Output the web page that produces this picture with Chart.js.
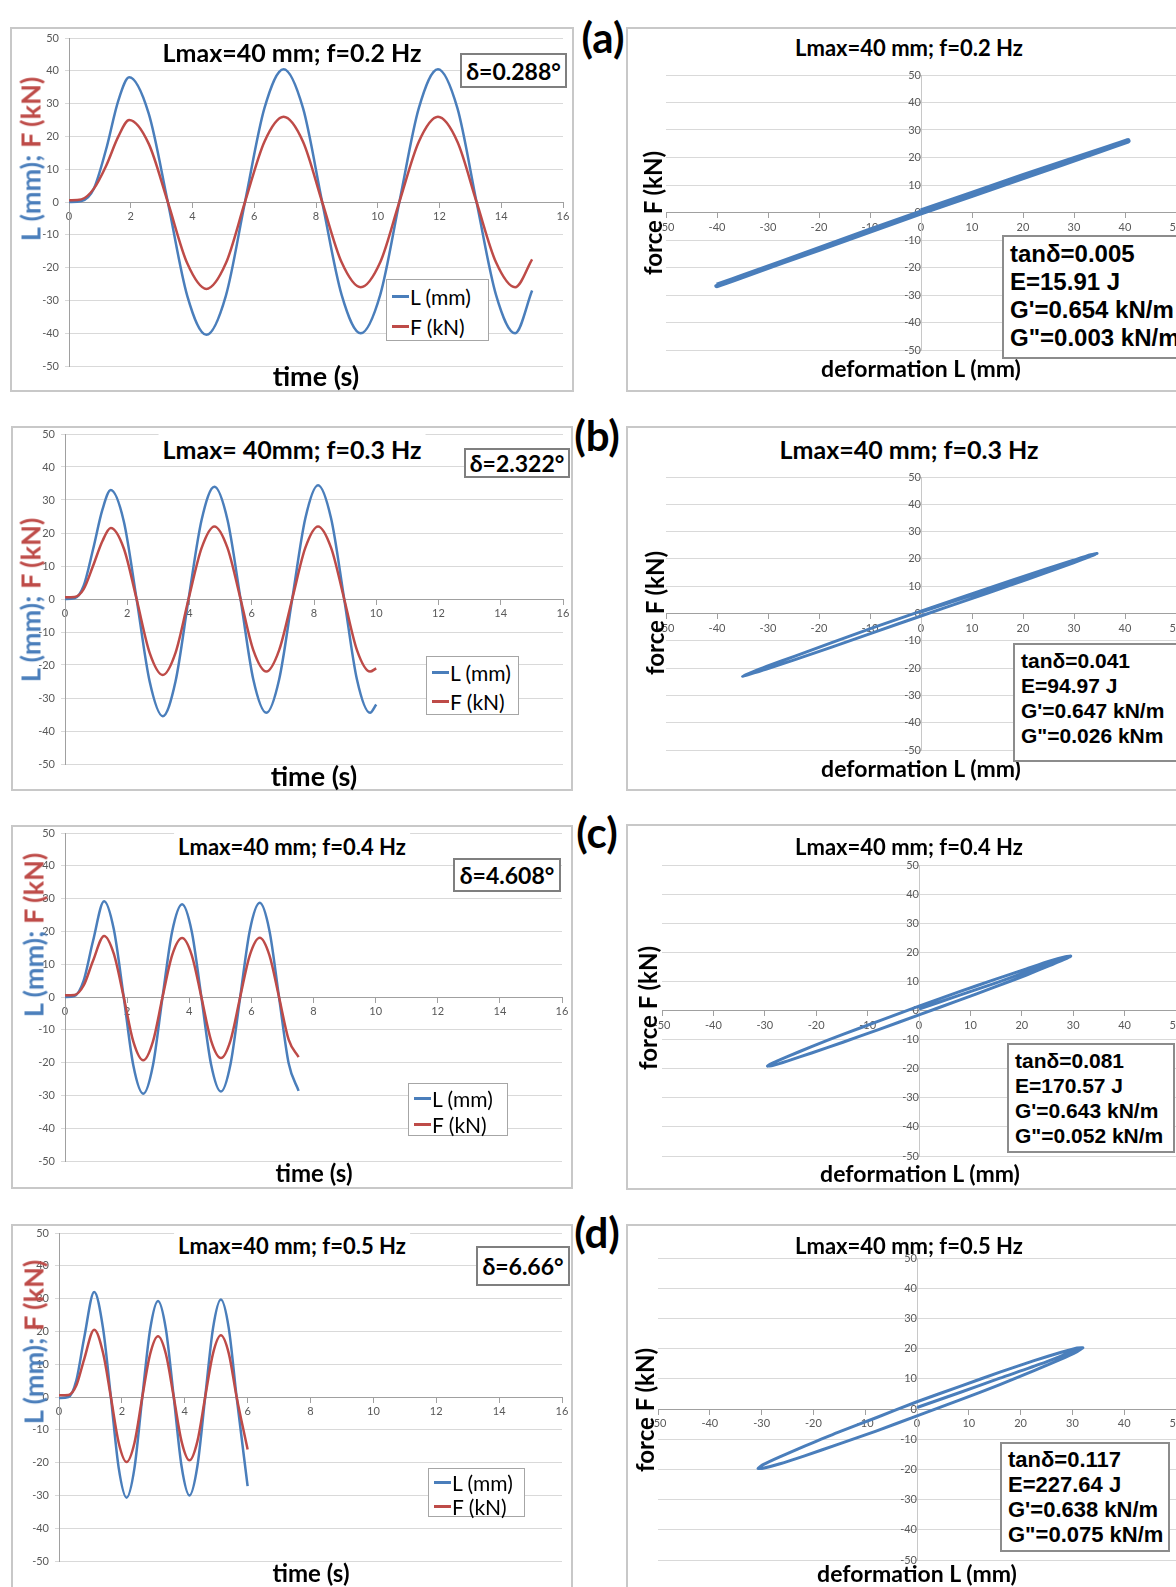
<!DOCTYPE html>
<html>
<head>
<meta charset="utf-8">
<title>Lmax=40 mm cyclic tests</title>
<script src="https://cdn.jsdelivr.net/npm/chart.js@4.4.1/dist/chart.umd.min.js"></script>
<style>
  html, body { margin: 0; padding: 0; background: #fff; }
  body { position: relative; width: 1176px; height: 1587px; overflow: hidden; font-family: Lato, "Open Sans", sans-serif; }
  .frame { position: absolute; border: 2px solid #c8c8c8; box-sizing: border-box; }
  .txt { position: absolute; transform: translate(-50%, -50%); white-space: nowrap; font-weight: bold; color: #000; line-height: 1; }
  .cover { background: #fff; padding: 0 4px; line-height: 30px; }
  .vert { transform: translate(-50%, -50%) rotate(-90deg); }
  .dbox { position: absolute; box-sizing: border-box; border: 2px solid #7f7f7f; background: #fff; font-weight: bold; font-size: 23px; display: flex; align-items: center; justify-content: center; }
  .legend { position: absolute; box-sizing: border-box; border: 1.5px solid #a6a6a6; background: #fff; padding: 1px 0 0 5px; font-size: 21px; }
  .legend div { display: flex; align-items: center; }
  .legend span { display: inline-block; width: 17px; height: 3px; margin-right: 1px; }
  .info { position: absolute; box-sizing: border-box; border: 2px solid #8c8c8c; background: #fff; font-family: "Liberation Sans", Arial, sans-serif; font-weight: bold; padding: 3px 0 0 6px; white-space: nowrap; }
  .plabel { position: absolute; transform: translate(-50%, -50%); font-weight: bold; font-size: 42px; line-height: 1; }
  canvas { position: absolute; }
</style>
</head>
<body>
<script>
// time series, f=0.2 Hz
const timeA = [0, 0.4, 0.8, 1.2, 1.6, 1.95, 2.58, 3.2, 3.83, 4.45, 5.08, 5.7, 6.33, 6.95, 7.58, 8.2, 8.83, 9.45, 10.08, 10.7, 11.33, 11.95, 12.58, 13.2, 13.83, 14.45, 15.0];
const lenA = [0, 0.3, 4, 16, 31, 38, 27, 0, -28.6, -40.5, -28.6, 0, 28.6, 40.5, 28.6, 0, -28.3, -40, -28.3, 0, 28.6, 40.5, 28.6, 0, -28.3, -40, -27];
const forceA = [0.5, 0.8, 4, 11, 20, 25, 17.8, 0, -18.7, -26.5, -18.7, 0, 18.4, 26, 18.4, 0, -18.4, -26, -18.4, 0, 18.4, 26, 18.4, 0, -18.4, -26, -17.5];

// f=0.3 Hz
const timeB = [0, 0.3, 0.6, 0.9, 1.2, 1.47, 1.89, 2.3, 2.72, 3.14, 3.55, 3.97, 4.39, 4.8, 5.22, 5.64, 6.05, 6.47, 6.88, 7.3, 7.72, 8.13, 8.55, 8.97, 9.38, 9.8, 10.0];
const lenB = [0, 0.2, 4, 15, 27, 33, 23.5, 0, -25, -35.5, -25, 0, 24, 34, 24, 0, -24.4, -34.5, -24.4, 0, 24.4, 34.5, 24.4, 0, -24.4, -34.5, -32];
const forceB = [0.5, 0.6, 3, 10, 17.5, 21.5, 15.3, 0, -16.3, -23, -16.3, 0, 15.5, 22, 15.5, 0, -15.5, -22, -15.5, 0, 15.5, 22, 15.5, 0, -15.5, -22, -21];

// f=0.4 Hz
const timeC = [0, 0.3, 0.6, 0.9, 1.26, 1.57, 1.89, 2.2, 2.52, 2.83, 3.14, 3.45, 3.77, 4.08, 4.39, 4.7, 5.02, 5.33, 5.64, 5.95, 6.27, 6.58, 6.89, 7.2, 7.52];
const lenC = [0, 0.3, 5, 17, 29.2, 20.7, 0, -20.9, -29.5, -20.9, 0, 20, 28.3, 20, 0, -20.4, -28.8, -20.4, 0, 20.3, 28.7, 20.3, 0, -20.2, -28.6];
const forceC = [0.5, 0.6, 3.5, 11, 18.6, 13.2, 0, -13.6, -19.3, -13.6, 0, 12.8, 18, 12.8, 0, -13.2, -18.6, -13.2, 0, 12.8, 18.1, 12.8, 0, -13, -18.3];

// f=0.5 Hz
const timeD = [0, 0.3, 0.55, 0.8, 1.12, 1.4, 1.65, 1.9, 2.15, 2.4, 2.65, 2.9, 3.15, 3.4, 3.65, 3.9, 4.15, 4.4, 4.65, 4.9, 5.15, 5.4, 5.65, 6.0];
const lenD = [-0.3, 0, 5, 18, 32, 21, 0, -21.7, -30.7, -21.7, 0, 20.7, 29.3, 20.7, 0, -21.2, -30, -21.2, 0, 21, 29.7, 21, 0, -27.2];
const forceD = [0.5, 0.6, 3.5, 11.5, 20.5, 13.5, 0, -14, -19.8, -14, 0, 13.1, 18.5, 13.1, 0, -13.6, -19.3, -13.6, 0, 13.3, 18.8, 13.3, 0, -16];

// hysteresis loops: start ramp, then one cycle (deformation L, force F)
const loopLenA = [0, 20, 40.5, 35.1, 20.3, 0, -20, -34.6, -40, -34.6, -20, 0, 20.3, 35.1, 40.5];
const loopForceA = [0.5, 13.3, 26, 22.5, 12.9, -0.1, -13.3, -22.9, -26.5, -23, -13.2, 0.1, 13.1, 22.6, 26];

const loopLenB = [0, 8, 17, 26, 34.5, 33.3, 29.9, 24.4, 17.3, 8.9, 0, -9.1, -17.5, -24.7, -30.3, -33.8, -35, -33.8, -30.3, -24.7, -17.5, -9.1, 0, 8.9, 17.3, 24.4, 29.9, 33.3, 34.5];
const loopForceB = [0.5, 5.5, 11, 16.6, 22.0, 21.0, 18.6, 14.9, 10.2, 4.8, -0.9, -6.8, -12.3, -16.9, -20.4, -22.4, -23.0, -22.0, -19.4, -15.6, -10.7, -5.0, 0.9, 6.5, 11.8, 16.2, 19.5, 21.5, 22.0];

const loopLenC = [0, 7.5, 15, 22, 29.5, 28.5, 25.5, 20.9, 14.8, 7.6, 0, -7.6, -14.8, -20.9, -25.5, -28.5, -29.5, -28.5, -25.5, -20.9, -14.8, -7.6, 0, 7.6, 14.8, 20.9, 25.5, 28.5, 29.5];
const loopForceC = [0.5, 5, 9.5, 14, 18.7, 17.7, 15.5, 12.2, 8.1, 3.4, -1.5, -6.4, -10.9, -14.6, -17.3, -18.9, -19.1, -18.1, -15.8, -12.4, -8.2, -3.5, 1.5, 6.3, 10.7, 14.3, 17.0, 18.5, 18.7];

const loopLenD = [0, 8, 16, 24, 32, 30.9, 27.7, 22.6, 16, 8.3, 0, -7.9, -15.4, -21.7, -26.6, -29.7, -30.7, -29.7, -26.6, -21.7, -15.4, -7.9, 0, 8.3, 16, 22.6, 27.7, 30.9, 32];
const loopForceD = [0.5, 5.3, 10.2, 15, 20.3, 19.0, 16.4, 12.7, 8.1, 3.0, -2.3, -7.3, -11.8, -15.5, -18.2, -19.6, -19.7, -18.4, -15.9, -12.3, -7.8, -2.9, 2.4, 7.5, 12.2, 16.0, 18.7, 20.2, 20.3];

const BLUE = '#4a7ebb';
const RED = '#be4b48';
const GRID = '#d9d9d9';
const AXIS = '#a0a0a0';

Chart.defaults.font.family = 'Lato, sans-serif';
Chart.defaults.font.size = 11;
Chart.defaults.color = '#595959';

// where everything sits on the page (pixels)
const panels = [
  {
    tag: '(a)', tagAt: [603, 37],
    t: timeA, L: lenA, F: forceA, loopL: loopLenA, loopF: loopForceA, lw: 5.5,
    left: { box: [10, 27, 564, 365], plot: [69, 38, 494, 328], title: 'Lmax=40 mm; f=0.2 Hz', titleAt: [292, 52], tsize: 25, cover: false,
            delta: 'δ=0.288°', dbox: [460, 53, 107, 35], legend: [386, 279, 103, 62, 30], xt: [316, 375, 27], yt: [30, 159] },
    right: { box: [626, 27, 600, 365], plot: [666, 75, 510, 275], title: 'Lmax=40 mm; f=0.2 Hz', titleAt: [909, 48], tsize: 22,
             yt: [653, 213], xt: [921, 368], info: [1002, 235, 200, 124], isize: 24, ilh: 28,
             lines: ['tanδ=0.005', 'E=15.91 J', "G'=0.654 kN/m", 'G"=0.003 kN/m'] }
  },
  {
    tag: '(b)', tagAt: [597, 435],
    t: timeB, L: lenB, F: forceB, loopL: loopLenB, loopF: loopForceB, lw: 3,
    left: { box: [11, 426, 562, 365], plot: [65, 434, 498, 330], title: 'Lmax= 40mm; f=0.3 Hz', titleAt: [292, 449], tsize: 25, cover: true,
            delta: 'δ=2.322°', dbox: [464, 448, 106, 30], legend: [426, 656, 93, 59, 29], xt: [314, 775, 27], yt: [30, 600] },
    right: { box: [626, 426, 600, 365], plot: [666, 477, 510, 273], title: 'Lmax=40 mm; f=0.3 Hz', titleAt: [909, 449], tsize: 25,
             yt: [655, 613], xt: [921, 768], info: [1013, 643, 200, 119], isize: 21, ilh: 25,
             lines: ['tanδ=0.041', 'E=94.97 J', "G'=0.647 kN/m", 'G"=0.026 kNm'] }
  },
  {
    tag: '(c)', tagAt: [597, 832],
    t: timeC, L: lenC, F: forceC, loopL: loopLenC, loopF: loopForceC, lw: 3,
    left: { box: [11, 825, 562, 364], plot: [65, 833, 497, 328], title: 'Lmax=40 mm; f=0.4 Hz', titleAt: [292, 847], tsize: 22, cover: true,
            delta: 'δ=4.608°', dbox: [453, 858, 108, 34], legend: [408, 1083, 100, 53, 26], xt: [314, 1173, 24], yt: [33, 935] },
    right: { box: [626, 824, 600, 366], plot: [662, 865, 514, 291], title: 'Lmax=40 mm; f=0.4 Hz', titleAt: [909, 847], tsize: 22,
             yt: [648, 1008], xt: [920, 1173], info: [1007, 1043, 168, 110], isize: 21, ilh: 25,
             lines: ['tanδ=0.081', 'E=170.57 J', "G'=0.643 kN/m", 'G"=0.052 kN/m'] }
  },
  {
    tag: '(d)', tagAt: [597, 1232],
    t: timeD, L: lenD, F: forceD, loopL: loopLenD, loopF: loopForceD, lw: 3,
    left: { box: [11, 1224, 562, 400], plot: [59, 1233, 503, 328], title: 'Lmax=40 mm; f=0.5 Hz', titleAt: [292, 1246], tsize: 22, cover: true,
            delta: 'δ=6.66°', dbox: [476, 1246, 94, 40], legend: [428, 1468, 97, 49, 24], xt: [311, 1573, 24], yt: [33, 1342] },
    right: { box: [626, 1224, 600, 400], plot: [658, 1258, 518, 302], title: 'Lmax=40 mm; f=0.5 Hz', titleAt: [909, 1246], tsize: 22,
             yt: [645, 1410], xt: [917, 1573], info: [1000, 1442, 170, 110], isize: 22, ilh: 25,
             lines: ['tanδ=0.117', 'E=227.64 J', "G'=0.638 kN/m", 'G"=0.075 kN/m'] }
  }
];

function el(cls, x, y, w, h, html, extra) {
  const d = document.createElement('div');
  d.className = cls;
  let css = 'left:' + x + 'px;top:' + y + 'px;';
  if (w) css += 'width:' + w + 'px;';
  if (h) css += 'height:' + h + 'px;';
  d.style.cssText = css + (extra || '');
  d.innerHTML = html || '';
  document.body.appendChild(d);
  return d;
}

function canvasAt(x, y, w, h) {
  const c = document.createElement('canvas');
  c.width = w;
  c.height = h;
  c.style.cssText = 'left:' + x + 'px;top:' + y + 'px;width:' + w + 'px;height:' + h + 'px;';
  document.body.appendChild(c);
  return c;
}

function zeroPad(s) {
  s.paddingLeft = 0; s.paddingRight = 0; s.paddingTop = 0; s.paddingBottom = 0;
}

function pts(xs, ys) {
  return xs.map(function (x, i) { return { x: x, y: ys[i] }; });
}

function timeChart(p, t, L, F) {
  const [x, y, w, h] = p.plot;
  const c = canvasAt(x - 45, y - 8, w + 53, h + 16);
  new Chart(c, {
    type: 'line',
    data: {
      datasets: [
        { label: 'F (kN)', data: pts(t, F), borderColor: RED, borderWidth: 2.5, order: 0 },
        { label: 'L (mm)', data: pts(t, L), borderColor: BLUE, borderWidth: 2.5, order: 1 }
      ]
    },
    options: {
      responsive: false, animation: false, events: [],
      layout: { padding: { left: 0, top: 8, right: 8, bottom: 8 } },
      elements: { point: { radius: 0 }, line: { cubicInterpolationMode: 'monotone', fill: false } },
      plugins: { legend: { display: false }, tooltip: { enabled: false } },
      scales: {
        x: {
          type: 'linear', min: 0, max: 16, position: { y: 0 },
          ticks: { stepSize: 2, maxRotation: 0, autoSkip: false, padding: 3 },
          grid: { drawOnChartArea: false, tickLength: 5, color: AXIS },
          border: { color: AXIS },
          afterFit: zeroPad
        },
        y: {
          type: 'linear', min: -50, max: 50,
          ticks: { stepSize: 10, padding: 6 },
          grid: { color: GRID, tickLength: 4 },
          border: { color: AXIS },
          afterFit: function (s) { s.width = 45; zeroPad(s); }
        }
      }
    }
  });
}

function loopChart(p, L, F, lw) {
  const [x, y, w, h] = p.plot;
  const c = canvasAt(x - 12, y - 12, w + 24, h + 24);
  new Chart(c, {
    type: 'scatter',
    data: {
      datasets: [{ data: pts(L, F), showLine: true, borderColor: BLUE, borderWidth: lw, tension: 0.2, pointRadius: 0 }]
    },
    options: {
      responsive: false, animation: false, events: [],
      layout: { padding: 12 },
      plugins: { legend: { display: false }, tooltip: { enabled: false } },
      scales: {
        x: {
          type: 'linear', min: -50, max: 50, position: { y: 0 },
          ticks: { stepSize: 10, maxRotation: 0, autoSkip: false, padding: 3 },
          grid: { drawOnChartArea: false, tickLength: 5, color: AXIS },
          border: { color: AXIS },
          afterFit: zeroPad
        },
        y: {
          type: 'linear', min: -50, max: 50, position: { x: 0 },
          ticks: { stepSize: 10, padding: 6 },
          grid: { color: GRID, tickLength: 4 },
          border: { color: '#c8c8c8' },
          afterFit: zeroPad
        }
      }
    }
  });
}

panels.forEach(function (p) {
  const a = p.left, b = p.right;
  el('frame', a.box[0], a.box[1], a.box[2], a.box[3]);
  el('frame', b.box[0], b.box[1], b.box[2], b.box[3]);

  timeChart(a, p.t, p.L, p.F);
  loopChart(b, p.loopL, p.loopF, p.lw);

  // left panel texts
  el('txt' + (a.cover ? ' cover' : ''), a.titleAt[0], a.titleAt[1], 0, 0, a.title, 'font-size:' + a.tsize + 'px;');
  el('dbox', a.dbox[0], a.dbox[1], a.dbox[2], a.dbox[3], a.delta);
  const lg = a.legend;
  el('legend', lg[0], lg[1], lg[2], lg[3],
    '<div style="height:' + lg[4] + 'px"><span style="background:' + BLUE + '"></span>L (mm)</div>' +
    '<div style="height:' + lg[4] + 'px"><span style="background:' + RED + '"></span>F (kN)</div>');
  el('txt', a.xt[0], a.xt[1], 0, 0, 'time (s)', 'font-size:' + a.xt[2] + 'px;');
  el('txt vert', a.yt[0], a.yt[1], 0, 0,
    '<span style="color:' + BLUE + '">L (mm);</span> <span style="color:' + RED + '">F (kN)</span>', 'font-size:27px;');

  // right panel texts
  el('txt', b.titleAt[0], b.titleAt[1], 0, 0, b.title, 'font-size:' + b.tsize + 'px;');
  el('txt vert', b.yt[0], b.yt[1], 0, 0, 'force F (kN)', 'font-size:24px;');
  el('txt', b.xt[0], b.xt[1], 0, 0, 'deformation L (mm)', 'font-size:23px;');
  el('info', b.info[0], b.info[1], b.info[2], b.info[3],
    b.lines.map(function (s) { return '<div style="height:' + b.ilh + 'px;line-height:' + b.ilh + 'px">' + s + '</div>'; }).join(''),
    'font-size:' + b.isize + 'px;');

  el('plabel', p.tagAt[0], p.tagAt[1], 0, 0, p.tag);
});
</script>
</body>
</html>
